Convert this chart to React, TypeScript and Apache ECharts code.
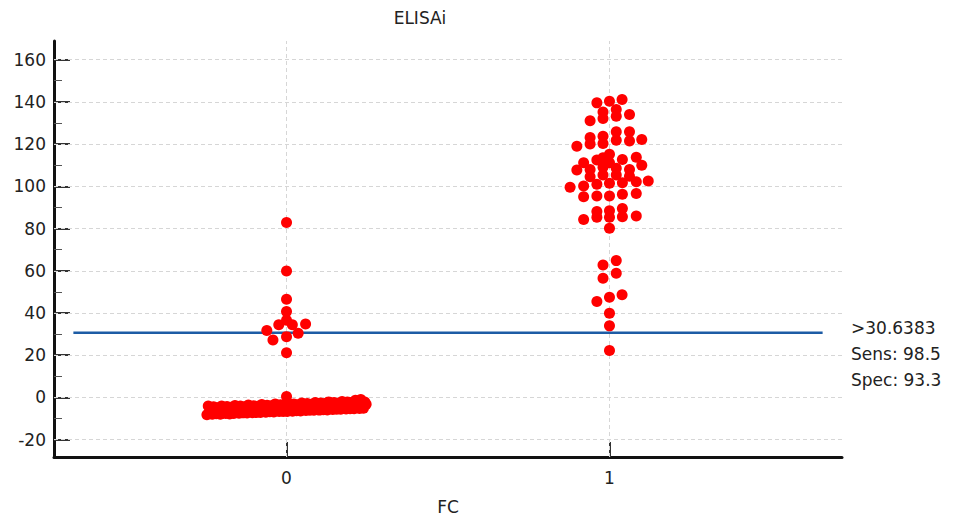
import React, { useEffect, useRef } from "react";
import * as echarts from "echarts";

// Group positions on the FC axis and their tick labels
const groupPositions = [0, 1];
const groupLabels = ["0", "1"];

// ELISAi axis ticks
const yMajorTicks = [-20, 0, 20, 40, 60, 80, 100, 120, 140, 160];
const yMinorTicks = [-10, 10, 30, 50, 70, 90, 110, 130, 150];

// Decision threshold
const cutoff = 30.6383;

// FC = 0: dense cluster of low ELISAi results, listed left to right
const negativeCluster = [
  -8.2, -4.1, -7.0, -5.3, -8.0, -4.4, -6.6, -7.7, -4.9, -6.1,
  -7.9, -4.0, -6.8, -5.0, -7.6, -4.3, -6.2, -7.8, -4.6, -5.7,
  -7.6, -3.8, -6.4, -4.8, -7.5, -4.1, -6.0, -7.3, -4.4, -5.5,
  -7.4, -3.6, -6.3, -4.5, -7.2, -3.9, -5.8, -7.1, -4.2, -5.2,
  -7.1, -3.3, -6.0, -4.2, -7.0, -3.7, -5.5, -6.8, -3.9, -5.0,
  -6.9, -3.1, -5.8, -4.0, -6.7, -3.4, -5.3, -6.6, -3.7, -4.7,
  -6.6, -2.9, -5.5, -3.8, -6.5, -3.1, -5.0, -6.3, -3.4, -4.5,
  -6.4, -2.6, -5.3, -3.5, -6.2, -2.9, -4.8, -6.1, -3.2, -4.2,
  -6.1, -2.4, -5.0, -3.2, -6.0, -2.6, -4.5, -5.8, -2.9, -4.0,
  -5.9, -2.1, -4.8, -3.0, -5.7, -2.4, -4.3, -5.6, -2.7, -3.7,
  -5.6, -1.9, -4.5, -2.7, -5.5, -2.1, -4.0, -5.3, -2.4, -3.5,
  -5.4, -1.3, -4.3, -2.5, -5.2, -1.0, -3.8, -5.1, -2.2, -3.2,
];

// FC = 0: remaining results as [offset from group centre, ELISAi]
const negativeOthers: [number, number][] = [
  [0, 82.9], [0, 59.9], [0, 46.5], [0, 40.7], [0, 36.6],
  [-0.024, 34.4], [0.018, 34.4], [0.059, 34.8], [-0.061, 31.7],
  [0.036, 30.4], [-0.042, 27.2], [0, 28.8], [0, 21.2], [0, 0.4],
];

// FC = 1: results as [offset from group centre, ELISAi]
const positives: [number, number][] = [
  [-0.039, 139.5], [0, 140.3], [0.039, 141.1], [-0.02, 135.2], [0.021, 136.4],
  [-0.02, 132.1], [0.021, 133.2], [-0.06, 131.0], [0.062, 134.0],
  [-0.06, 123.1], [-0.02, 123.7], [0.021, 125.8], [0.062, 125.8],
  [-0.06, 120.0], [-0.02, 120.3], [0.021, 121.8], [0.062, 121.5], [0.1, 122.2], [-0.101, 119.0],
  [0, 115.2], [-0.039, 112.4], [-0.08, 111.1], [0.04, 112.7], [0.083, 113.7], [0, 111.1], [0.1, 110.0], [-0.02, 113.5],
  [-0.101, 107.7], [-0.06, 108.0], [-0.02, 109.0], [0.021, 108.5], [0.062, 108.0],
  [-0.06, 104.5], [-0.02, 105.3], [0.021, 105.3], [0.062, 104.8],
  [-0.122, 99.5], [-0.08, 100.1], [-0.039, 101.0], [0, 101.4], [0.04, 101.7], [0.083, 102.1], [0.12, 102.5],
  [-0.08, 95.0], [-0.039, 95.4], [0, 95.4], [0.04, 96.2], [0.083, 96.6],
  [-0.039, 88.0], [0, 88.4], [0.04, 89.5],
  [-0.08, 84.3], [-0.039, 85.3], [0, 85.3], [0.04, 85.6], [0.083, 85.9],
  [0, 80.1],
  [-0.02, 62.7], [0.021, 64.8], [-0.02, 56.5], [0.021, 58.8],
  [-0.039, 45.4], [0, 47.5], [0.039, 48.6], [0, 39.9], [0, 33.9], [0, 22.2],
];

const FONT = "'DejaVu Sans', 'Liberation Sans', sans-serif";
const TEXT = "#222";
const GRID_LINE = { color: "#d6d6d6", type: [4, 3] as number[], width: 1 };

export default function App() {
  const ref = useRef<HTMLDivElement>(null);

  useEffect(() => {
    document.body.style.margin = "0";
    if (!ref.current) return;
    const chart = echarts.init(ref.current, undefined, { renderer: "svg" });

    // spread the dense FC=0 cluster evenly across its strip width
    const spread = 0.2465;
    const n = negativeCluster.length;
    const clusterPoints = negativeCluster.map((v, i) => [
      groupPositions[0] - spread + (2 * spread * i) / (n - 1),
      v,
    ]);
    const otherNeg = negativeOthers.map(([dx, v]) => [groupPositions[0] + dx, v]);
    const posPoints = positives.map(([dx, v]) => [groupPositions[1] + dx, v]);

    const negValues = negativeCluster.concat(negativeOthers.map((p) => p[1]));
    const posValues = positives.map((p) => p[1]);
    const sens = (100 * posValues.filter((v) => v > cutoff).length) / posValues.length;
    const spec = (100 * negValues.filter((v) => v <= cutoff).length) / negValues.length;

    const axisText = { color: TEXT, fontFamily: FONT, fontSize: 17 };
    const label = (text: string, y: number) => ({
      type: "text",
      x: 851,
      y,
      style: { text, fill: TEXT, font: `17px ${FONT}`, textAlign: "left", textVerticalAlign: "middle" },
    });

    chart.setOption({
      animation: false,
      grid: { left: 54, right: 116, top: 41, bottom: 64, outerBoundsMode: "none" },
      graphic: [
        {
          type: "text",
          x: 420,
          y: 18,
          style: { text: "ELISAi", fill: TEXT, font: `17px ${FONT}`, textAlign: "center", textVerticalAlign: "middle" },
        },
        label(">" + cutoff.toString(), 328),
        label("Sens: " + sens.toFixed(1), 354),
        label("Spec: " + spec.toFixed(1), 380),
      ],
      xAxis: {
        type: "value",
        min: -0.72,
        max: 1.72,
        name: "FC",
        nameLocation: "middle",
        nameGap: 41,
        nameTextStyle: axisText,
        axisLine: { show: true, onZero: false, lineStyle: { color: "#111", width: 3 } },
        axisTick: { show: true, inside: true, length: 15, customValues: groupPositions, lineStyle: { color: "#333", width: 2 } },
        axisLabel: {
          ...axisText,
          margin: 12,
          customValues: groupPositions,
          formatter: (v: number) => groupLabels[groupPositions.indexOf(v)] ?? "",
        },
        splitLine: { show: false },
      },
      yAxis: [
        {
          type: "value",
          min: -28.2,
          max: 168.8,
          axisLine: { show: true, onZero: false, lineStyle: { color: "#111", width: 3 } },
          axisTick: { show: true, inside: true, length: 16, customValues: yMajorTicks, lineStyle: { color: "#333", width: 2 } },
          axisLabel: { ...axisText, margin: 8, customValues: yMajorTicks },
          splitLine: { show: false },
        },
        {
          type: "value",
          min: -28.2,
          max: 168.8,
          position: "left",
          offset: 0,
          axisLine: { show: false, onZero: false },
          axisTick: { show: true, inside: true, length: 8, customValues: yMinorTicks, lineStyle: { color: "#555", width: 1 } },
          axisLabel: { show: false },
          splitLine: { show: false },
        },
      ],
      series: [
        {
          // dashed reference grid at the major ELISAi ticks and the FC groups
          type: "scatter",
          data: [],
          silent: true,
          z: 1,
          markLine: {
            silent: true,
            z: 1,
            symbol: "none",
            label: { show: false },
            lineStyle: GRID_LINE,
            emphasis: { disabled: true },
            data: [
              ...yMajorTicks.map((v) => ({ yAxis: v })),
              ...groupPositions.map((v) => ({ xAxis: v })),
            ],
          },
        },
        {
          type: "line",
          data: [
            [-0.66, cutoff],
            [1.66, cutoff],
          ],
          symbol: "none",
          lineStyle: { color: "#1d5ca5", width: 2.5 },
          silent: true,
          z: 3,
        },
        {
          type: "scatter",
          data: clusterPoints.concat(otherNeg, posPoints),
          symbol: "circle",
          symbolSize: 11,
          itemStyle: { color: "#ff0000", opacity: 1 },
          silent: true,
          z: 4,
        },
      ],
    });

    return () => chart.dispose();
  }, []);

  return <div ref={ref} style={{ width: 958, height: 521 }} />;
}
